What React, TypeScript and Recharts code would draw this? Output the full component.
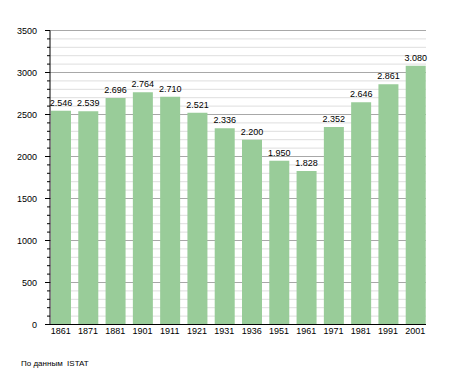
import React from 'react';
import { BarChart, Bar, XAxis, YAxis, CartesianGrid, LabelList } from 'recharts';

const years = ['1861', '1871', '1881', '1901', '1911', '1921', '1931', '1936', '1951', '1961', '1971', '1981', '1991', '2001'];
const population = [2546, 2539, 2696, 2764, 2710, 2521, 2336, 2200, 1950, 1828, 2352, 2646, 2861, 3080];
const majorTicks = [0, 500, 1000, 1500, 2000, 2500, 3000, 3500];
const minorTicks = Array.from({ length: 36 }, (_, i) => i * 100);
const yMax = 3500;
const sourceNote = 'По данным  ISTAT';

const data = years.map((year, i) => ({ year, pop: population[i] }));

const FONT = '"Liberation Sans", Arial, Helvetica, sans-serif';

const fmt = (v: number) => {
  const s = String(v);
  return s.length > 3 ? s.slice(0, s.length - 3) + '.' + s.slice(s.length - 3) : s;
};

const YTick = (props: any) => {
  const { x, y, payload } = props;
  const v = payload.value;
  const major = v % 500 === 0;
  return (
    <g>
      <line x1={x - (major ? 5 : 3)} x2={x} y1={y} y2={y} stroke="#000" strokeWidth={1} />
      {major && (
        <text x={x - 13} y={y} dy="0.35em" textAnchor="end" fontSize={9} fontFamily={FONT} fill="#000">
          {v}
        </text>
      )}
    </g>
  );
};

const majorGen = (p: any) => {
  const off = p.offset || {};
  const top = off.top ?? 0;
  const h = off.height ?? 0;
  return majorTicks.map((t) => top + h * (1 - t / yMax));
};

export default function App() {
  return (
    <div style={{ position: 'absolute', left: 0, top: 0, width: 455, height: 373, background: '#fff' }}>
      <BarChart
        width={455}
        height={373}
        data={data}
        margin={{ top: 30.5, right: 29, bottom: 18.5, left: 10 }}
      >
        <CartesianGrid vertical={false} stroke="#dedede" strokeWidth={1} />
        <CartesianGrid
          vertical={false}
          stroke="#a8a8a8"
          strokeWidth={1}
          horizontalCoordinatesGenerator={majorGen}
        />
        <XAxis
          dataKey="year"
          interval={0}
          tickLine={false}
          tickSize={0}
          tickMargin={3}
          height={30}
          padding={{ left: -3, right: -3 }}
          axisLine={{ stroke: '#000', strokeWidth: 1 }}
          tick={{ fontSize: 9, fontFamily: FONT, fill: '#000' }}
        />
        <YAxis
          width={40}
          domain={[0, yMax]}
          ticks={minorTicks}
          interval={0}
          tickLine={false}
          tickSize={0}
          tickMargin={0}
          axisLine={{ stroke: '#000', strokeWidth: 1 }}
          tick={<YTick />}
        />
        <Bar dataKey="pop" fill="#99cc99" barSize={20} isAnimationActive={false}>
          <LabelList
            dataKey="pop"
            position="top"
            offset={5}
            formatter={(v: any) => fmt(Number(v))}
            style={{ fontSize: 9, fontFamily: FONT, fill: '#000' }}
          />
        </Bar>
      </BarChart>
      <div
        style={{
          position: 'absolute',
          left: 21,
          top: 359,
          fontSize: 8,
          lineHeight: '10px',
          fontFamily: FONT,
          color: '#000',
          whiteSpace: 'pre',
        }}
      >
        {sourceNote}
      </div>
    </div>
  );
}
